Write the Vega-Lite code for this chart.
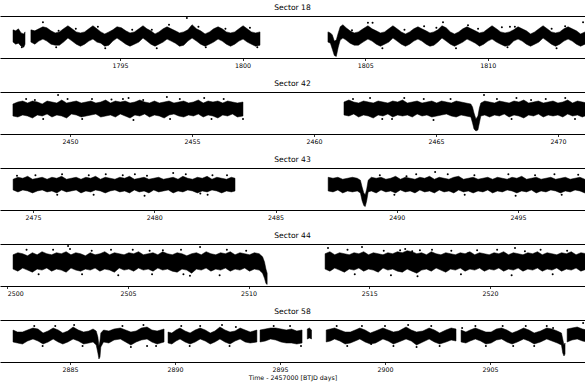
{
"$schema":"https://vega.github.io/schema/vega-lite/v6.json",
"background":"white",
"padding":{"left":0,"right":0,"top":4,"bottom":0},
"spacing":11,
"config":{"view":{"stroke":null},
"axis":{"grid":false,"domainColor":"black","domainWidth":1.2,"tickColor":"black","tickWidth":0.8,"tickSize":2.5,"labelFont":"DejaVu Sans","labelFontSize":6.3,"labelColor":"black","labelPadding":2,"titleFont":"DejaVu Sans","titleFontSize":6.3,"titleFontWeight":"normal","titleColor":"black","titlePadding":2,"labelFlush":10,"labelOverlap":false},
"title":{"font":"DejaVu Sans","fontSize":7.6,"fontWeight":"normal","color":"black","offset":4,"anchor":"middle"}},
"datasets":{
"s18":[
{"g":1,"t":1790.64,"l":-5,"h":7},{"g":1,"t":1790.75,"l":-7,"h":6},{"g":1,"t":1790.86,"l":-6,"h":8},{"g":1,"t":1790.97,"l":-9,"h":4},{"g":1,"t":1791.08,"l":-10,"h":3},{"g":1,"t":1791.13,"l":-7,"h":5},
{"g":2,"t":1791.37,"l":-5,"h":7},{"g":2,"t":1791.53,"l":-7,"h":6},{"g":2,"t":1791.69,"l":-4,"h":8},{"g":2,"t":1791.86,"l":-2,"h":10},{"g":2,"t":1792.02,"l":-4,"h":9},{"g":2,"t":1792.19,"l":-7,"h":6},{"g":2,"t":1792.36,"l":-8,"h":4},{"g":2,"t":1792.53,"l":-8,"h":5},{"g":2,"t":1792.70,"l":-5,"h":8},{"g":2,"t":1792.88,"l":-1,"h":11},{"g":2,"t":1793.05,"l":-4,"h":8},{"g":2,"t":1793.22,"l":-7,"h":5},{"g":2,"t":1793.39,"l":-9,"h":4},{"g":2,"t":1793.56,"l":-7,"h":5},{"g":2,"t":1793.73,"l":-4,"h":8},{"g":2,"t":1793.90,"l":-2,"h":11},{"g":2,"t":1794.06,"l":-5,"h":8},{"g":2,"t":1794.22,"l":-6,"h":5},{"g":2,"t":1794.38,"l":-9,"h":3},{"g":2,"t":1794.55,"l":-8,"h":5},{"g":2,"t":1794.71,"l":-4,"h":7},{"g":2,"t":1794.88,"l":-1,"h":10},{"g":2,"t":1795.06,"l":-4,"h":9},{"g":2,"t":1795.24,"l":-7,"h":6},{"g":2,"t":1795.41,"l":-9,"h":4},{"g":2,"t":1795.59,"l":-7,"h":5},{"g":2,"t":1795.77,"l":-5,"h":8},{"g":2,"t":1795.94,"l":-1,"h":11},{"g":2,"t":1796.10,"l":-4,"h":8},{"g":2,"t":1796.26,"l":-7,"h":6},{"g":2,"t":1796.43,"l":-9,"h":3},{"g":2,"t":1796.59,"l":-7,"h":5},{"g":2,"t":1796.76,"l":-5,"h":8},{"g":2,"t":1796.92,"l":-2,"h":10},{"g":2,"t":1797.09,"l":-4,"h":8},{"g":2,"t":1797.26,"l":-6,"h":6},{"g":2,"t":1797.43,"l":-9,"h":4},{"g":2,"t":1797.60,"l":-8,"h":5},{"g":2,"t":1797.77,"l":-4,"h":7},{"g":2,"t":1797.94,"l":-1,"h":12},{"g":2,"t":1798.12,"l":-4,"h":8},{"g":2,"t":1798.29,"l":-7,"h":6},{"g":2,"t":1798.47,"l":-9,"h":3},{"g":2,"t":1798.65,"l":-7,"h":5},{"g":2,"t":1798.82,"l":-5,"h":8},{"g":2,"t":1799.00,"l":-2,"h":10},{"g":2,"t":1799.17,"l":-4,"h":8},{"g":2,"t":1799.34,"l":-7,"h":5},{"g":2,"t":1799.51,"l":-9,"h":4},{"g":2,"t":1799.68,"l":-7,"h":5},{"g":2,"t":1799.85,"l":-4,"h":8},{"g":2,"t":1800.02,"l":-2,"h":11},{"g":2,"t":1800.19,"l":-5,"h":8},{"g":2,"t":1800.36,"l":-7,"h":5},{"g":2,"t":1800.53,"l":-9,"h":4},{"g":2,"t":1800.71,"l":-8,"h":5},
{"g":3,"t":1803.48,"l":-5,"h":5},{"g":3,"t":1803.58,"l":-6,"h":4},{"g":3,"t":1803.66,"l":-12,"h":2},{"g":3,"t":1803.74,"l":-18,"h":-4},{"g":3,"t":1803.82,"l":-19,"h":-3},{"g":3,"t":1803.90,"l":-10,"h":4},{"g":3,"t":1803.98,"l":-3,"h":10},{"g":3,"t":1804.09,"l":-1,"h":12},{"g":3,"t":1804.22,"l":-3,"h":9},{"g":3,"t":1804.38,"l":-6,"h":6},{"g":3,"t":1804.55,"l":-8,"h":4},{"g":3,"t":1804.72,"l":-8,"h":5},{"g":3,"t":1804.91,"l":-5,"h":8},{"g":3,"t":1805.11,"l":-2,"h":11},{"g":3,"t":1805.28,"l":-4,"h":8},{"g":3,"t":1805.45,"l":-7,"h":6},{"g":3,"t":1805.62,"l":-9,"h":4},{"g":3,"t":1805.79,"l":-7,"h":5},{"g":3,"t":1805.96,"l":-5,"h":8},{"g":3,"t":1806.13,"l":-1,"h":11},{"g":3,"t":1806.30,"l":-4,"h":8},{"g":3,"t":1806.47,"l":-7,"h":5},{"g":3,"t":1806.64,"l":-9,"h":3},{"g":3,"t":1806.81,"l":-7,"h":5},{"g":3,"t":1806.98,"l":-4,"h":8},{"g":3,"t":1807.15,"l":-2,"h":10},{"g":3,"t":1807.31,"l":-4,"h":8},{"g":3,"t":1807.48,"l":-7,"h":6},{"g":3,"t":1807.64,"l":-9,"h":4},{"g":3,"t":1807.80,"l":-8,"h":5},{"g":3,"t":1807.96,"l":-5,"h":7},{"g":3,"t":1808.13,"l":-1,"h":11},{"g":3,"t":1808.30,"l":-4,"h":9},{"g":3,"t":1808.47,"l":-7,"h":5},{"g":3,"t":1808.64,"l":-9,"h":3},{"g":3,"t":1808.81,"l":-7,"h":5},{"g":3,"t":1808.98,"l":-5,"h":8},{"g":3,"t":1809.15,"l":-2,"h":10},{"g":3,"t":1809.32,"l":-4,"h":8},{"g":3,"t":1809.49,"l":-6,"h":6},{"g":3,"t":1809.66,"l":-9,"h":4},{"g":3,"t":1809.83,"l":-7,"h":5},{"g":3,"t":1810.00,"l":-4,"h":8},{"g":3,"t":1810.17,"l":-2,"h":11},{"g":3,"t":1810.35,"l":-5,"h":8},{"g":3,"t":1810.52,"l":-7,"h":5},{"g":3,"t":1810.70,"l":-9,"h":4},{"g":3,"t":1810.88,"l":-8,"h":5},{"g":3,"t":1811.05,"l":-4,"h":7},{"g":3,"t":1811.23,"l":-2,"h":10},{"g":3,"t":1811.40,"l":-4,"h":8},{"g":3,"t":1811.57,"l":-7,"h":6},{"g":3,"t":1811.74,"l":-9,"h":3},{"g":3,"t":1811.91,"l":-7,"h":5},{"g":3,"t":1812.08,"l":-5,"h":8},{"g":3,"t":1812.25,"l":-1,"h":11},{"g":3,"t":1812.42,"l":-4,"h":8},{"g":3,"t":1812.59,"l":-7,"h":5},{"g":3,"t":1812.76,"l":-9,"h":4},{"g":3,"t":1812.93,"l":-7,"h":5},{"g":3,"t":1813.10,"l":-4,"h":8},{"g":3,"t":1813.27,"l":-2,"h":10},{"g":3,"t":1813.44,"l":-4,"h":8},{"g":3,"t":1813.61,"l":-7,"h":6},{"g":3,"t":1813.78,"l":-9,"h":3},{"g":3,"t":1813.96,"l":-7,"h":5},{"g":3,"t":1814.10,"l":-4,"h":7}
],
"o18":[
{"t":1791.86,"f":14.5},{"t":1797.73,"f":18.5},{"t":1791.0,"f":-10},{"t":1805.11,"f":14},{"t":1805.30,"f":14},{"t":1807.40,"f":10.5},{"t":1808.17,"f":14.5},{"t":1809.19,"f":11.5},{"t":1810.57,"f":9.5},{"t":1810.90,"f":10},{"t":1813.15,"f":10.5},{"t":1813.88,"f":14.5},{"t":1804.46,"f":6.5},
{"t":1792.5,"f":6},{"t":1793.2,"f":8},{"t":1794.1,"f":10},{"t":1795.5,"f":7},{"t":1796.3,"f":7},{"t":1797.0,"f":12},{"t":1798.2,"f":10},{"t":1799.3,"f":8},{"t":1800.3,"f":9},{"t":1806.6,"f":7},{"t":1807.9,"f":9},{"t":1809.6,"f":8},{"t":1811.1,"f":10},{"t":1812.6,"f":8},
{"t":1792.4,"f":-10},{"t":1794.4,"f":-11},{"t":1796.5,"f":-11},{"t":1798.5,"f":-10},{"t":1800.6,"f":-10},{"t":1805.7,"f":-11},{"t":1808.7,"f":-11},{"t":1810.8,"f":-10},{"t":1812.8,"f":-11}
],
"s42":[
{"g":1,"t":2447.66,"l":-3,"h":9},{"g":1,"t":2447.86,"l":-4,"h":11},{"g":1,"t":2448.06,"l":-2,"h":12},{"g":1,"t":2448.26,"l":-3,"h":10},{"g":1,"t":2448.46,"l":-5,"h":12},{"g":1,"t":2448.66,"l":-2,"h":11},{"g":1,"t":2448.86,"l":-3,"h":9},{"g":1,"t":2449.06,"l":-1,"h":12},{"g":1,"t":2449.26,"l":-4,"h":11},{"g":1,"t":2449.46,"l":-2,"h":10},{"g":1,"t":2449.66,"l":-3,"h":13},{"g":1,"t":2449.86,"l":-5,"h":10},{"g":1,"t":2450.06,"l":-1,"h":11},{"g":1,"t":2450.26,"l":-2,"h":12},{"g":1,"t":2450.46,"l":-4,"h":10},{"g":1,"t":2450.66,"l":-3,"h":11},{"g":1,"t":2450.86,"l":-2,"h":12},{"g":1,"t":2451.06,"l":-1,"h":10},{"g":1,"t":2451.26,"l":-4,"h":11},{"g":1,"t":2451.46,"l":-3,"h":13},{"g":1,"t":2451.66,"l":-2,"h":10},{"g":1,"t":2451.86,"l":-4,"h":12},{"g":1,"t":2452.06,"l":-1,"h":11},{"g":1,"t":2452.26,"l":-3,"h":12},{"g":1,"t":2452.46,"l":-5,"h":10},{"g":1,"t":2452.66,"l":-2,"h":11},{"g":1,"t":2452.86,"l":-3,"h":13},{"g":1,"t":2453.06,"l":-1,"h":11},{"g":1,"t":2453.26,"l":-4,"h":10},{"g":1,"t":2453.46,"l":-2,"h":12},{"g":1,"t":2453.66,"l":-3,"h":10},{"g":1,"t":2453.86,"l":-5,"h":11},{"g":1,"t":2454.06,"l":-2,"h":12},{"g":1,"t":2454.26,"l":-1,"h":10},{"g":1,"t":2454.46,"l":-3,"h":11},{"g":1,"t":2454.66,"l":-4,"h":12},{"g":1,"t":2454.86,"l":-2,"h":10},{"g":1,"t":2455.06,"l":-3,"h":11},{"g":1,"t":2455.26,"l":-1,"h":13},{"g":1,"t":2455.46,"l":-4,"h":10},{"g":1,"t":2455.66,"l":-2,"h":12},{"g":1,"t":2455.86,"l":-3,"h":11},{"g":1,"t":2456.06,"l":-5,"h":12},{"g":1,"t":2456.26,"l":-2,"h":10},{"g":1,"t":2456.46,"l":-3,"h":12},{"g":1,"t":2456.66,"l":-1,"h":11},{"g":1,"t":2456.86,"l":-4,"h":10},{"g":1,"t":2457.09,"l":-3,"h":11},
{"g":2,"t":2461.23,"l":-2,"h":11},{"g":2,"t":2461.43,"l":-3,"h":13},{"g":2,"t":2461.63,"l":-1,"h":11},{"g":2,"t":2461.83,"l":-4,"h":10},{"g":2,"t":2462.03,"l":-2,"h":12},{"g":2,"t":2462.23,"l":-3,"h":11},{"g":2,"t":2462.43,"l":-5,"h":10},{"g":2,"t":2462.63,"l":-2,"h":12},{"g":2,"t":2462.83,"l":-3,"h":11},{"g":2,"t":2463.03,"l":-1,"h":10},{"g":2,"t":2463.23,"l":-4,"h":12},{"g":2,"t":2463.43,"l":-2,"h":11},{"g":2,"t":2463.63,"l":-3,"h":13},{"g":2,"t":2463.83,"l":-2,"h":10},{"g":2,"t":2464.03,"l":-4,"h":11},{"g":2,"t":2464.23,"l":-1,"h":12},{"g":2,"t":2464.43,"l":-3,"h":10},{"g":2,"t":2464.63,"l":-2,"h":11},{"g":2,"t":2464.83,"l":-4,"h":12},{"g":2,"t":2465.03,"l":-3,"h":10},{"g":2,"t":2465.23,"l":-2,"h":12},{"g":2,"t":2465.43,"l":-1,"h":11},{"g":2,"t":2465.63,"l":-3,"h":10},{"g":2,"t":2465.83,"l":-4,"h":12},{"g":2,"t":2466.03,"l":-2,"h":11},{"g":2,"t":2466.23,"l":-3,"h":10},{"g":2,"t":2466.43,"l":-4,"h":9},{"g":2,"t":2466.50,"l":-10,"h":6},{"g":2,"t":2466.56,"l":-16,"h":0},{"g":2,"t":2466.64,"l":-18,"h":-6},{"g":2,"t":2466.72,"l":-17,"h":-3},{"g":2,"t":2466.78,"l":-10,"h":5},{"g":2,"t":2466.84,"l":-3,"h":10},{"g":2,"t":2467.00,"l":-2,"h":12},{"g":2,"t":2467.20,"l":-4,"h":11},{"g":2,"t":2467.40,"l":-2,"h":10},{"g":2,"t":2467.60,"l":-3,"h":12},{"g":2,"t":2467.80,"l":-1,"h":11},{"g":2,"t":2468.00,"l":-4,"h":10},{"g":2,"t":2468.20,"l":-2,"h":12},{"g":2,"t":2468.40,"l":-3,"h":11},{"g":2,"t":2468.60,"l":-5,"h":13},{"g":2,"t":2468.80,"l":-2,"h":10},{"g":2,"t":2469.00,"l":-3,"h":11},{"g":2,"t":2469.20,"l":-1,"h":12},{"g":2,"t":2469.40,"l":-4,"h":10},{"g":2,"t":2469.60,"l":-2,"h":11},{"g":2,"t":2469.80,"l":-3,"h":12},{"g":2,"t":2470.00,"l":-2,"h":10},{"g":2,"t":2470.20,"l":-4,"h":11},{"g":2,"t":2470.40,"l":-1,"h":13},{"g":2,"t":2470.60,"l":-3,"h":10},{"g":2,"t":2470.80,"l":-2,"h":12},{"g":2,"t":2471.00,"l":-4,"h":11},{"g":2,"t":2471.20,"l":-2,"h":10}
],
"o42":[
{"t":2449.51,"f":18},{"t":2453.97,"f":16},{"t":2457.09,"f":-6},{"t":2466.97,"f":18},{"t":2462.80,"f":-6},{"t":2448.56,"f":13},{"t":2452.17,"f":14},{"t":2453.00,"f":13},{"t":2467.50,"f":14},{"t":2468.90,"f":13},
{"t":2448.2,"f":14},{"t":2449.9,"f":14},{"t":2450.9,"f":14},{"t":2451.7,"f":13.5},{"t":2452.4,"f":15},{"t":2454.5,"f":14},{"t":2455.5,"f":15},{"t":2456.3,"f":14},{"t":2461.6,"f":14},{"t":2462.3,"f":15},{"t":2463.7,"f":15},{"t":2464.5,"f":14},{"t":2465.6,"f":14},{"t":2468.3,"f":15},{"t":2469.5,"f":14},{"t":2470.3,"f":15},
{"t":2448.9,"f":-6},{"t":2450.5,"f":-6},{"t":2452.6,"f":-7},{"t":2454.1,"f":-6},{"t":2455.8,"f":-6},{"t":2463.2,"f":-6},{"t":2464.9,"f":-7},{"t":2468.1,"f":-6},{"t":2470.7,"f":-6}
],
"s43":[
{"g":1,"t":2474.18,"l":-1,"h":10},{"g":1,"t":2474.38,"l":-3,"h":12},{"g":1,"t":2474.58,"l":-1,"h":11},{"g":1,"t":2474.78,"l":-2,"h":13},{"g":1,"t":2474.98,"l":-4,"h":10},{"g":1,"t":2475.18,"l":-2,"h":11},{"g":1,"t":2475.38,"l":-1,"h":12},{"g":1,"t":2475.58,"l":-3,"h":10},{"g":1,"t":2475.78,"l":-2,"h":12},{"g":1,"t":2475.98,"l":-4,"h":11},{"g":1,"t":2476.18,"l":-1,"h":13},{"g":1,"t":2476.38,"l":-3,"h":10},{"g":1,"t":2476.58,"l":-2,"h":11},{"g":1,"t":2476.78,"l":-1,"h":12},{"g":1,"t":2476.98,"l":-4,"h":10},{"g":1,"t":2477.18,"l":-2,"h":12},{"g":1,"t":2477.38,"l":-3,"h":11},{"g":1,"t":2477.58,"l":-1,"h":13},{"g":1,"t":2477.78,"l":-2,"h":10},{"g":1,"t":2477.98,"l":-4,"h":12},{"g":1,"t":2478.18,"l":-2,"h":11},{"g":1,"t":2478.38,"l":-1,"h":10},{"g":1,"t":2478.58,"l":-3,"h":12},{"g":1,"t":2478.78,"l":-2,"h":11},{"g":1,"t":2478.98,"l":-4,"h":13},{"g":1,"t":2479.18,"l":-1,"h":10},{"g":1,"t":2479.38,"l":-3,"h":11},{"g":1,"t":2479.58,"l":-2,"h":12},{"g":1,"t":2479.78,"l":-4,"h":10},{"g":1,"t":2479.98,"l":-1,"h":11},{"g":1,"t":2480.18,"l":-3,"h":12},{"g":1,"t":2480.38,"l":-2,"h":10},{"g":1,"t":2480.58,"l":-1,"h":11},{"g":1,"t":2480.78,"l":-4,"h":12},{"g":1,"t":2480.98,"l":-2,"h":10},{"g":1,"t":2481.18,"l":-3,"h":13},{"g":1,"t":2481.38,"l":-1,"h":11},{"g":1,"t":2481.58,"l":-2,"h":10},{"g":1,"t":2481.78,"l":-4,"h":12},{"g":1,"t":2481.98,"l":-2,"h":11},{"g":1,"t":2482.18,"l":-3,"h":13},{"g":1,"t":2482.38,"l":-1,"h":10},{"g":1,"t":2482.58,"l":-2,"h":12},{"g":1,"t":2482.78,"l":-4,"h":11},{"g":1,"t":2482.98,"l":-2,"h":10},{"g":1,"t":2483.18,"l":-3,"h":12},{"g":1,"t":2483.33,"l":-2,"h":11},
{"g":2,"t":2487.17,"l":-2,"h":12},{"g":2,"t":2487.37,"l":-3,"h":11},{"g":2,"t":2487.57,"l":-1,"h":12},{"g":2,"t":2487.77,"l":-4,"h":10},{"g":2,"t":2487.97,"l":-2,"h":11},{"g":2,"t":2488.17,"l":-3,"h":12},{"g":2,"t":2488.37,"l":-2,"h":11},{"g":2,"t":2488.50,"l":-4,"h":9},{"g":2,"t":2488.57,"l":-12,"h":2},{"g":2,"t":2488.64,"l":-17,"h":-4},{"g":2,"t":2488.70,"l":-18,"h":-6},{"g":2,"t":2488.76,"l":-12,"h":0},{"g":2,"t":2488.82,"l":-3,"h":9},{"g":2,"t":2488.95,"l":-2,"h":12},{"g":2,"t":2489.15,"l":-4,"h":11},{"g":2,"t":2489.35,"l":-1,"h":12},{"g":2,"t":2489.55,"l":-3,"h":10},{"g":2,"t":2489.75,"l":-2,"h":11},{"g":2,"t":2489.95,"l":-4,"h":13},{"g":2,"t":2490.15,"l":-1,"h":10},{"g":2,"t":2490.35,"l":-3,"h":12},{"g":2,"t":2490.55,"l":-2,"h":11},{"g":2,"t":2490.75,"l":-4,"h":10},{"g":2,"t":2490.95,"l":-1,"h":12},{"g":2,"t":2491.15,"l":-3,"h":11},{"g":2,"t":2491.35,"l":-2,"h":13},{"g":2,"t":2491.55,"l":-4,"h":10},{"g":2,"t":2491.75,"l":-1,"h":12},{"g":2,"t":2491.95,"l":-3,"h":11},{"g":2,"t":2492.15,"l":-2,"h":10},{"g":2,"t":2492.35,"l":-4,"h":12},{"g":2,"t":2492.55,"l":-1,"h":13},{"g":2,"t":2492.75,"l":-3,"h":10},{"g":2,"t":2492.95,"l":-2,"h":11},{"g":2,"t":2493.15,"l":-4,"h":12},{"g":2,"t":2493.35,"l":-2,"h":10},{"g":2,"t":2493.55,"l":-3,"h":11},{"g":2,"t":2493.75,"l":-1,"h":12},{"g":2,"t":2493.95,"l":-4,"h":10},{"g":2,"t":2494.15,"l":-2,"h":12},{"g":2,"t":2494.35,"l":-3,"h":11},{"g":2,"t":2494.55,"l":-1,"h":10},{"g":2,"t":2494.75,"l":-2,"h":12},{"g":2,"t":2494.95,"l":-4,"h":11},{"g":2,"t":2495.15,"l":-2,"h":13},{"g":2,"t":2495.35,"l":-3,"h":10},{"g":2,"t":2495.55,"l":-1,"h":11},{"g":2,"t":2495.75,"l":-4,"h":12},{"g":2,"t":2495.95,"l":-2,"h":10},{"g":2,"t":2496.15,"l":-3,"h":11},{"g":2,"t":2496.35,"l":-1,"h":12},{"g":2,"t":2496.55,"l":-2,"h":10},{"g":2,"t":2496.75,"l":-4,"h":11},{"g":2,"t":2496.95,"l":-2,"h":12},{"g":2,"t":2497.15,"l":-3,"h":10},{"g":2,"t":2497.35,"l":-1,"h":11},{"g":2,"t":2497.55,"l":-2,"h":12},{"g":2,"t":2497.75,"l":-4,"h":10},{"g":2,"t":2497.90,"l":-3,"h":11}
],
"o43":[
{"t":2480.78,"f":16.5},{"t":2474.34,"f":13.5},{"t":2479.70,"f":13.5},{"t":2481.90,"f":-4.5},{"t":2491.58,"f":17.5},{"t":2497.48,"f":14.5},{"t":2490.40,"f":13},
{"t":2475.1,"f":14},{"t":2476.2,"f":15},{"t":2477.3,"f":14},{"t":2478.0,"f":15},{"t":2478.7,"f":14},{"t":2479.2,"f":15},{"t":2481.3,"f":15},{"t":2482.4,"f":14},{"t":2483.0,"f":14},{"t":2489.3,"f":14},{"t":2490.8,"f":15},{"t":2492.1,"f":15},{"t":2493.2,"f":14},{"t":2494.6,"f":15},{"t":2495.7,"f":14},{"t":2496.5,"f":15},
{"t":2476.0,"f":-6},{"t":2477.5,"f":-6},{"t":2479.6,"f":-7},{"t":2482.2,"f":-6},{"t":2489.9,"f":-6},{"t":2492.8,"f":-6},{"t":2494.9,"f":-7},{"t":2496.8,"f":-6}
],
"s44":[
{"g":1,"t":2500.24,"l":-4,"h":10},{"g":1,"t":2500.44,"l":-6,"h":12},{"g":1,"t":2500.64,"l":-3,"h":11},{"g":1,"t":2500.84,"l":-5,"h":9},{"g":1,"t":2501.04,"l":-7,"h":12},{"g":1,"t":2501.24,"l":-4,"h":10},{"g":1,"t":2501.44,"l":-5,"h":13},{"g":1,"t":2501.64,"l":-3,"h":11},{"g":1,"t":2501.84,"l":-6,"h":10},{"g":1,"t":2502.04,"l":-4,"h":12},{"g":1,"t":2502.24,"l":-5,"h":11},{"g":1,"t":2502.44,"l":-7,"h":13},{"g":1,"t":2502.64,"l":-3,"h":10},{"g":1,"t":2502.84,"l":-5,"h":12},{"g":1,"t":2503.04,"l":-6,"h":11},{"g":1,"t":2503.24,"l":-4,"h":9},{"g":1,"t":2503.44,"l":-5,"h":12},{"g":1,"t":2503.64,"l":-3,"h":10},{"g":1,"t":2503.84,"l":-6,"h":11},{"g":1,"t":2504.04,"l":-4,"h":13},{"g":1,"t":2504.24,"l":-5,"h":10},{"g":1,"t":2504.44,"l":-7,"h":12},{"g":1,"t":2504.64,"l":-3,"h":11},{"g":1,"t":2504.84,"l":-5,"h":10},{"g":1,"t":2505.04,"l":-4,"h":12},{"g":1,"t":2505.24,"l":-6,"h":11},{"g":1,"t":2505.44,"l":-3,"h":13},{"g":1,"t":2505.64,"l":-5,"h":10},{"g":1,"t":2505.84,"l":-4,"h":11},{"g":1,"t":2506.04,"l":-6,"h":12},{"g":1,"t":2506.24,"l":-3,"h":10},{"g":1,"t":2506.44,"l":-5,"h":13},{"g":1,"t":2506.64,"l":-4,"h":11},{"g":1,"t":2506.84,"l":-6,"h":10},{"g":1,"t":2507.04,"l":-7,"h":12},{"g":1,"t":2507.24,"l":-4,"h":11},{"g":1,"t":2507.44,"l":-5,"h":9},{"g":1,"t":2507.64,"l":-8,"h":11},{"g":1,"t":2507.84,"l":-4,"h":12},{"g":1,"t":2508.04,"l":-5,"h":10},{"g":1,"t":2508.24,"l":-3,"h":13},{"g":1,"t":2508.44,"l":-6,"h":11},{"g":1,"t":2508.64,"l":-4,"h":10},{"g":1,"t":2508.84,"l":-5,"h":12},{"g":1,"t":2509.04,"l":-3,"h":11},{"g":1,"t":2509.24,"l":-6,"h":13},{"g":1,"t":2509.44,"l":-4,"h":10},{"g":1,"t":2509.64,"l":-5,"h":12},{"g":1,"t":2509.84,"l":-3,"h":11},{"g":1,"t":2510.04,"l":-6,"h":10},{"g":1,"t":2510.24,"l":-4,"h":12},{"g":1,"t":2510.44,"l":-5,"h":11},{"g":1,"t":2510.58,"l":-8,"h":8},{"g":1,"t":2510.66,"l":-13,"h":3},{"g":1,"t":2510.72,"l":-18,"h":-4},{"g":1,"t":2510.77,"l":-19,"h":-8},
{"g":2,"t":2513.17,"l":-4,"h":11},{"g":2,"t":2513.37,"l":-6,"h":13},{"g":2,"t":2513.57,"l":-3,"h":10},{"g":2,"t":2513.77,"l":-5,"h":12},{"g":2,"t":2513.97,"l":-7,"h":11},{"g":2,"t":2514.17,"l":-4,"h":10},{"g":2,"t":2514.37,"l":-5,"h":12},{"g":2,"t":2514.57,"l":-3,"h":11},{"g":2,"t":2514.77,"l":-6,"h":13},{"g":2,"t":2514.97,"l":-4,"h":10},{"g":2,"t":2515.17,"l":-5,"h":12},{"g":2,"t":2515.37,"l":-7,"h":11},{"g":2,"t":2515.57,"l":-3,"h":10},{"g":2,"t":2515.77,"l":-5,"h":12},{"g":2,"t":2515.97,"l":-4,"h":11},{"g":2,"t":2516.17,"l":-6,"h":13},{"g":2,"t":2516.37,"l":-7,"h":12},{"g":2,"t":2516.57,"l":-4,"h":14},{"g":2,"t":2516.77,"l":-6,"h":13},{"g":2,"t":2516.97,"l":-8,"h":11},{"g":2,"t":2517.17,"l":-5,"h":12},{"g":2,"t":2517.37,"l":-4,"h":10},{"g":2,"t":2517.57,"l":-6,"h":13},{"g":2,"t":2517.77,"l":-3,"h":11},{"g":2,"t":2517.97,"l":-5,"h":10},{"g":2,"t":2518.17,"l":-7,"h":12},{"g":2,"t":2518.37,"l":-4,"h":11},{"g":2,"t":2518.57,"l":-5,"h":10},{"g":2,"t":2518.77,"l":-3,"h":12},{"g":2,"t":2518.97,"l":-6,"h":11},{"g":2,"t":2519.17,"l":-4,"h":13},{"g":2,"t":2519.37,"l":-5,"h":10},{"g":2,"t":2519.57,"l":-3,"h":12},{"g":2,"t":2519.77,"l":-6,"h":11},{"g":2,"t":2519.97,"l":-4,"h":10},{"g":2,"t":2520.17,"l":-5,"h":12},{"g":2,"t":2520.37,"l":-3,"h":11},{"g":2,"t":2520.57,"l":-6,"h":13},{"g":2,"t":2520.77,"l":-4,"h":10},{"g":2,"t":2520.97,"l":-5,"h":12},{"g":2,"t":2521.17,"l":-3,"h":11},{"g":2,"t":2521.37,"l":-6,"h":10},{"g":2,"t":2521.57,"l":-4,"h":12},{"g":2,"t":2521.77,"l":-5,"h":11},{"g":2,"t":2521.97,"l":-3,"h":13},{"g":2,"t":2522.17,"l":-6,"h":10},{"g":2,"t":2522.37,"l":-4,"h":12},{"g":2,"t":2522.57,"l":-5,"h":11},{"g":2,"t":2522.77,"l":-3,"h":10},{"g":2,"t":2522.97,"l":-6,"h":12},{"g":2,"t":2523.17,"l":-4,"h":11},{"g":2,"t":2523.37,"l":-5,"h":13},{"g":2,"t":2523.57,"l":-3,"h":10},{"g":2,"t":2523.77,"l":-6,"h":12},{"g":2,"t":2524.00,"l":-4,"h":11}
],
"o44":[
{"t":2502.52,"f":18.5},{"t":2502.60,"f":15.5},{"t":2507.99,"f":17.5},{"t":2506.45,"f":14.5},{"t":2507.57,"f":-10.5},{"t":2514.70,"f":17.5},{"t":2516.28,"f":14.5},{"t":2516.49,"f":15.5},{"t":2516.78,"f":13.5},{"t":2517.10,"f":14.5},{"t":2519.47,"f":14.5},{"t":2521.04,"f":16.5},{"t":2521.45,"f":13.5},{"t":2519.10,"f":11.5},{"t":2513.29,"f":16.5},
{"t":2500.8,"f":15},{"t":2501.9,"f":15},{"t":2503.5,"f":14},{"t":2504.3,"f":15},{"t":2505.2,"f":15},{"t":2505.9,"f":14},{"t":2507.2,"f":15},{"t":2509.1,"f":15},{"t":2509.9,"f":14},{"t":2514.1,"f":15},{"t":2515.6,"f":14},{"t":2517.6,"f":15},{"t":2518.4,"f":14},{"t":2520.3,"f":15},{"t":2522.1,"f":15},{"t":2523.2,"f":14},
{"t":2501.3,"f":-9},{"t":2503.1,"f":-9},{"t":2504.6,"f":-10},{"t":2506.0,"f":-9},{"t":2507.3,"f":-9},{"t":2508.8,"f":-10},{"t":2514.4,"f":-9},{"t":2515.9,"f":-10},{"t":2517.0,"f":-11},{"t":2518.8,"f":-9},{"t":2520.9,"f":-10},{"t":2522.6,"f":-9}
],
"s58":[
{"g":1,"t":2882.29,"l":-1,"h":11},{"g":1,"t":2882.50,"l":-2,"h":9},{"g":1,"t":2882.74,"l":-3,"h":9},{"g":1,"t":2882.98,"l":0,"h":11},{"g":1,"t":2883.24,"l":2,"h":13},{"g":1,"t":2883.48,"l":0,"h":12},{"g":1,"t":2883.72,"l":-3,"h":8},{"g":1,"t":2883.96,"l":-1,"h":10},{"g":1,"t":2884.20,"l":2,"h":13},{"g":1,"t":2884.44,"l":-1,"h":11},{"g":1,"t":2884.66,"l":-3,"h":8},{"g":1,"t":2884.90,"l":-1,"h":10},{"g":1,"t":2885.15,"l":2,"h":14},{"g":1,"t":2885.40,"l":0,"h":11},{"g":1,"t":2885.65,"l":-3,"h":9},{"g":1,"t":2885.90,"l":-2,"h":10},{"g":1,"t":2886.10,"l":-1,"h":12},{"g":1,"t":2886.25,"l":-4,"h":10},{"g":1,"t":2886.33,"l":-12,"h":4},{"g":1,"t":2886.38,"l":-18,"h":-5},{"g":1,"t":2886.43,"l":-16,"h":0},{"g":1,"t":2886.47,"l":-6,"h":8},{"g":1,"t":2886.60,"l":-1,"h":11},{"g":1,"t":2886.85,"l":-2,"h":10},{"g":1,"t":2887.10,"l":1,"h":12},{"g":1,"t":2887.40,"l":2,"h":13},{"g":1,"t":2887.65,"l":-1,"h":11},{"g":1,"t":2887.90,"l":-4,"h":9},{"g":1,"t":2888.15,"l":-1,"h":10},{"g":1,"t":2888.40,"l":1,"h":13},{"g":1,"t":2888.67,"l":2,"h":14},{"g":1,"t":2888.90,"l":-1,"h":11},{"g":1,"t":2889.15,"l":-3,"h":10},{"g":1,"t":2889.48,"l":-1,"h":12},
{"g":2,"t":2889.67,"l":-2,"h":9},{"g":2,"t":2889.85,"l":-3,"h":8},{"g":2,"t":2890.05,"l":0,"h":11},{"g":2,"t":2890.24,"l":2,"h":13},{"g":2,"t":2890.48,"l":-1,"h":10},{"g":2,"t":2890.72,"l":-3,"h":8},{"g":2,"t":2890.96,"l":-1,"h":11},{"g":2,"t":2891.20,"l":2,"h":13},{"g":2,"t":2891.44,"l":0,"h":11},{"g":2,"t":2891.68,"l":-3,"h":8},{"g":2,"t":2891.90,"l":-1,"h":10},{"g":2,"t":2892.14,"l":2,"h":14},{"g":2,"t":2892.38,"l":-1,"h":11},{"g":2,"t":2892.62,"l":-3,"h":9},{"g":2,"t":2892.86,"l":0,"h":10},{"g":2,"t":2893.10,"l":2,"h":13},{"g":2,"t":2893.34,"l":-1,"h":11},{"g":2,"t":2893.58,"l":-2,"h":9},{"g":2,"t":2893.90,"l":-1,"h":11},
{"g":3,"t":2894.05,"l":-1,"h":11},{"g":3,"t":2894.30,"l":0,"h":12},{"g":3,"t":2894.55,"l":2,"h":13},{"g":3,"t":2894.80,"l":1,"h":13},{"g":3,"t":2895.05,"l":-1,"h":12},{"g":3,"t":2895.30,"l":-2,"h":11},{"g":3,"t":2895.55,"l":-2,"h":12},{"g":3,"t":2895.80,"l":-3,"h":10},{"g":3,"t":2896.05,"l":-2,"h":11},
{"g":4,"t":2896.30,"l":2,"h":12},{"g":4,"t":2896.40,"l":3,"h":13},{"g":4,"t":2896.50,"l":2,"h":11},
{"g":5,"t":2897.20,"l":-1,"h":11},{"g":5,"t":2897.40,"l":0,"h":12},{"g":5,"t":2897.60,"l":2,"h":13},{"g":5,"t":2897.85,"l":0,"h":11},{"g":5,"t":2898.10,"l":-3,"h":9},{"g":5,"t":2898.35,"l":-2,"h":9},{"g":5,"t":2898.58,"l":0,"h":11},{"g":5,"t":2898.80,"l":2,"h":13},{"g":5,"t":2899.05,"l":-1,"h":11},{"g":5,"t":2899.30,"l":-3,"h":8},{"g":5,"t":2899.55,"l":-2,"h":10},{"g":5,"t":2899.90,"l":2,"h":13},{"g":5,"t":2900.15,"l":0,"h":11},{"g":5,"t":2900.40,"l":-3,"h":9},{"g":5,"t":2900.65,"l":-1,"h":10},{"g":5,"t":2901.00,"l":2,"h":14},{"g":5,"t":2901.25,"l":0,"h":11},{"g":5,"t":2901.50,"l":-4,"h":9},{"g":5,"t":2901.80,"l":-1,"h":10},{"g":5,"t":2902.10,"l":2,"h":13},{"g":5,"t":2902.35,"l":-1,"h":11},{"g":5,"t":2902.60,"l":-3,"h":8},{"g":5,"t":2902.90,"l":-1,"h":11},{"g":5,"t":2903.15,"l":1,"h":13},{"g":5,"t":2903.38,"l":0,"h":12},
{"g":6,"t":2903.62,"l":-1,"h":11},{"g":6,"t":2903.85,"l":-2,"h":9},{"g":6,"t":2904.05,"l":0,"h":11},{"g":6,"t":2904.30,"l":2,"h":13},{"g":6,"t":2904.55,"l":0,"h":11},{"g":6,"t":2904.80,"l":-3,"h":9},{"g":6,"t":2905.05,"l":-2,"h":9},{"g":6,"t":2905.30,"l":1,"h":12},{"g":6,"t":2905.55,"l":2,"h":13},{"g":6,"t":2905.80,"l":-1,"h":11},{"g":6,"t":2906.05,"l":-3,"h":8},{"g":6,"t":2906.30,"l":-1,"h":10},{"g":6,"t":2906.60,"l":2,"h":13},{"g":6,"t":2906.85,"l":0,"h":11},{"g":6,"t":2907.10,"l":-3,"h":8},{"g":6,"t":2907.40,"l":-1,"h":10},{"g":6,"t":2907.70,"l":2,"h":13},{"g":6,"t":2907.95,"l":0,"h":12},{"g":6,"t":2908.20,"l":-2,"h":10},{"g":6,"t":2908.40,"l":-4,"h":8},{"g":6,"t":2908.46,"l":-12,"h":2},{"g":6,"t":2908.52,"l":-15,"h":-4},{"g":6,"t":2908.57,"l":-13,"h":-2},
{"g":7,"t":2908.67,"l":-1,"h":12},{"g":7,"t":2908.90,"l":1,"h":13},{"g":7,"t":2909.15,"l":2,"h":14},{"g":7,"t":2909.40,"l":0,"h":12},{"g":7,"t":2909.60,"l":-1,"h":11}
],
"o58":[
{"t":2892.24,"f":16},{"t":2895.48,"f":15},{"t":2903.67,"f":13},{"t":2909.43,"f":18},{"t":2908.00,"f":13},{"t":2888.67,"f":-5},{"t":2899.34,"f":-3},
{"t":2883.3,"f":15},{"t":2884.3,"f":15},{"t":2885.2,"f":16},{"t":2887.5,"f":15},{"t":2888.5,"f":16},{"t":2890.3,"f":15},{"t":2891.2,"f":15},{"t":2892.9,"f":14},{"t":2894.7,"f":15},{"t":2897.7,"f":15},{"t":2898.9,"f":15},{"t":2900.0,"f":15},{"t":2901.1,"f":16},{"t":2902.2,"f":15},{"t":2904.3,"f":15},{"t":2905.6,"f":15},{"t":2906.7,"f":15},{"t":2907.7,"f":15},
{"t":2883.7,"f":-5},{"t":2885.6,"f":-5},{"t":2887.9,"f":-6},{"t":2889.1,"f":-5},{"t":2890.7,"f":-5},{"t":2892.6,"f":-5},{"t":2896.0,"f":-5},{"t":2898.2,"f":-5},{"t":2900.4,"f":-5},{"t":2901.5,"f":-6},{"t":2902.6,"f":-5},{"t":2904.8,"f":-5},{"t":2906.1,"f":-5},{"t":2907.1,"f":-5}
]
},
"vconcat":[
{"title":"Sector 18","width":585,"height":42,
"layer":[
{"data":{"name":"s18"},"mark":{"type":"area","color":"black","stroke":"black","strokeWidth":0.5,"clip":true,"interpolate":"linear"},
"encoding":{"x":{"field":"t","type":"quantitative","scale":{"domain":[1790.11,1813.96],"nice":false,"zero":false},"axis":{"values":[1795,1800,1805,1810],"format":"d","title":null}},
"y":{"field":"l","type":"quantitative","scale":{"domain":[-20.5,20.5],"nice":false,"zero":false},"axis":null},"y2":{"field":"h"},"detail":{"field":"g","type":"nominal"}}},
{"data":{"name":"o18"},"mark":{"type":"point","filled":true,"size":4,"color":"black","opacity":1,"clip":true},
"encoding":{"x":{"field":"t","type":"quantitative","axis":{"orient":"top","labels":false,"ticks":false,"title":null}},"y":{"field":"f","type":"quantitative","axis":null}}}
],"resolve":{"axis":{"x":"independent"}}},
{"title":"Sector 42","width":585,"height":42,
"layer":[
{"data":{"name":"s42"},"mark":{"type":"area","color":"black","stroke":"black","strokeWidth":0.5,"clip":true,"interpolate":"linear"},
"encoding":{"x":{"field":"t","type":"quantitative","scale":{"domain":[2447.13,2471.11],"nice":false,"zero":false},"axis":{"values":[2450,2455,2460,2465,2470],"format":"d","title":null}},
"y":{"field":"l","type":"quantitative","scale":{"domain":[-21,21],"nice":false,"zero":false},"axis":null},"y2":{"field":"h"},"detail":{"field":"g","type":"nominal"}}},
{"data":{"name":"o42"},"mark":{"type":"point","filled":true,"size":4,"color":"black","opacity":1,"clip":true},
"encoding":{"x":{"field":"t","type":"quantitative","axis":{"orient":"top","labels":false,"ticks":false,"title":null}},"y":{"field":"f","type":"quantitative","axis":null}}}
],"resolve":{"axis":{"x":"independent"}}},
{"title":"Sector 43","width":585,"height":42,
"layer":[
{"data":{"name":"s43"},"mark":{"type":"area","color":"black","stroke":"black","strokeWidth":0.5,"clip":true,"interpolate":"linear"},
"encoding":{"x":{"field":"t","type":"quantitative","scale":{"domain":[2473.64,2497.76],"nice":false,"zero":false},"axis":{"values":[2475,2480,2485,2490,2495],"format":"d","title":null}},
"y":{"field":"l","type":"quantitative","scale":{"domain":[-21.5,21.5],"nice":false,"zero":false},"axis":null},"y2":{"field":"h"},"detail":{"field":"g","type":"nominal"}}},
{"data":{"name":"o43"},"mark":{"type":"point","filled":true,"size":4,"color":"black","opacity":1,"clip":true},
"encoding":{"x":{"field":"t","type":"quantitative","axis":{"orient":"top","labels":false,"ticks":false,"title":null}},"y":{"field":"f","type":"quantitative","axis":null}}}
],"resolve":{"axis":{"x":"independent"}}},
{"title":"Sector 44","width":585,"height":42,
"layer":[
{"data":{"name":"s44"},"mark":{"type":"area","color":"black","stroke":"black","strokeWidth":0.5,"clip":true,"interpolate":"linear"},
"encoding":{"x":{"field":"t","type":"quantitative","scale":{"domain":[2499.70,2523.94],"nice":false,"zero":false},"axis":{"values":[2500,2505,2510,2515,2520],"format":"d","title":null}},
"y":{"field":"l","type":"quantitative","scale":{"domain":[-20.5,20.5],"nice":false,"zero":false},"axis":null},"y2":{"field":"h"},"detail":{"field":"g","type":"nominal"}}},
{"data":{"name":"o44"},"mark":{"type":"point","filled":true,"size":4,"color":"black","opacity":1,"clip":true},
"encoding":{"x":{"field":"t","type":"quantitative","axis":{"orient":"top","labels":false,"ticks":false,"title":null}},"y":{"field":"f","type":"quantitative","axis":null}}}
],"resolve":{"axis":{"x":"independent"}}},
{"title":"Sector 58","width":585,"height":42,
"layer":[
{"data":{"name":"s58"},"mark":{"type":"area","color":"black","stroke":"black","strokeWidth":0.5,"clip":true,"interpolate":"linear"},
"encoding":{"x":{"field":"t","type":"quantitative","scale":{"domain":[2881.67,2909.52],"nice":false,"zero":false},"axis":{"values":[2885,2890,2895,2900,2905],"format":"d","title":"Time - 2457000 [BTJD days]"}},
"y":{"field":"l","type":"quantitative","scale":{"domain":[-21,21],"nice":false,"zero":false},"axis":null},"y2":{"field":"h"},"detail":{"field":"g","type":"nominal"}}},
{"data":{"name":"o58"},"mark":{"type":"point","filled":true,"size":4,"color":"black","opacity":1,"clip":true},
"encoding":{"x":{"field":"t","type":"quantitative","axis":{"orient":"top","labels":false,"ticks":false,"title":null}},"y":{"field":"f","type":"quantitative","axis":null}}}
],"resolve":{"axis":{"x":"independent"}}}
]
}
